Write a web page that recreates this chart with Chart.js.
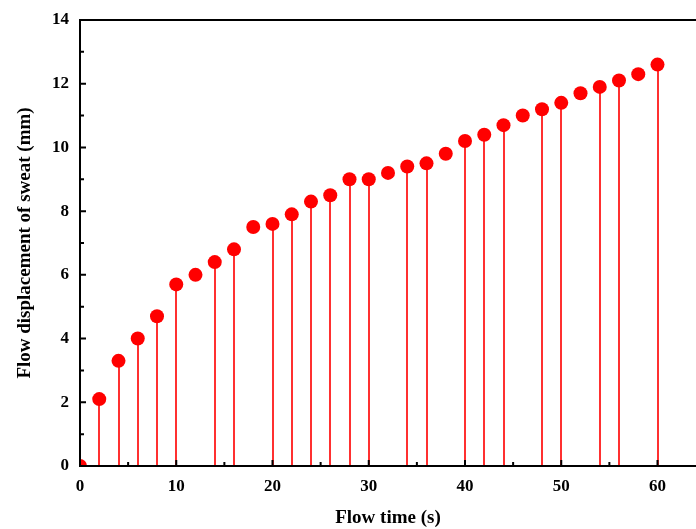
<!DOCTYPE html>
<html>
<head>
<meta charset="utf-8">
<script src="https://cdn.jsdelivr.net/npm/chart.js@4"></script>
<style>
html,body{margin:0;padding:0;background:#fff;}
#wrap{width:696px;height:529px;position:relative;}
</style>
</head>
<body>
<div id="wrap"><canvas id="c" width="696" height="529"></canvas></div>
<script>
const flowTime = [0,2,4,6,8,10,12,14,16,18,20,22,24,26,28,30,32,34,36,38,40,42,44,46,48,50,52,54,56,58,60];
const displacement = [0,2.1,3.3,4.0,4.7,5.7,6.0,6.4,6.8,7.5,7.6,7.9,8.3,8.5,9.0,9.0,9.2,9.4,9.5,9.8,10.2,10.4,10.7,11.0,11.2,11.4,11.7,11.9,12.1,12.3,12.6];
// times that have a visible drop line in the reference
const stemTimes = [2,4,6,8,10,14,16,20,22,24,26,28,30,34,36,40,42,44,48,50,54,56,60];
const xTicks = [0,10,20,30,40,50,60];
const xMinor = [5,15,25,35,45,55];
const yTicks = [0,2,4,6,8,10,12,14];
const yMinor = [1,3,5,7,9,11,13];

const FONT = "'Liberation Serif','Times New Roman',serif";

const framePlugin = {
  id: 'frame',
  beforeDatasetsDraw(chart) {
    const ctx = chart.ctx, xs = chart.scales.x, ys = chart.scales.y;
    ctx.save();
    ctx.strokeStyle = '#ff3030';
    ctx.lineWidth = 2;
    stemTimes.forEach(t => {
      const i = flowTime.indexOf(t);
      if (i < 0) return;
      const px = Math.round(xs.getPixelForValue(t));
      ctx.beginPath();
      ctx.moveTo(px, ys.getPixelForValue(0));
      ctx.lineTo(px, ys.getPixelForValue(displacement[i]));
      ctx.stroke();
    });
    ctx.restore();
  },
  afterDraw(chart) {
    const ctx = chart.ctx, a = chart.chartArea, xs = chart.scales.x, ys = chart.scales.y;
    ctx.save();
    ctx.strokeStyle = '#000';
    ctx.lineWidth = 2;
    ctx.beginPath();
    xTicks.forEach(v => { const p = xs.getPixelForValue(v); ctx.moveTo(p, a.bottom); ctx.lineTo(p, a.bottom - 6); });
    xMinor.forEach(v => { const p = xs.getPixelForValue(v); ctx.moveTo(p, a.bottom); ctx.lineTo(p, a.bottom - 4); });
    yTicks.forEach(v => { const p = ys.getPixelForValue(v); ctx.moveTo(a.left, p); ctx.lineTo(a.left + 6, p); });
    yMinor.forEach(v => { const p = ys.getPixelForValue(v); ctx.moveTo(a.left, p); ctx.lineTo(a.left + 4, p); });
    ctx.stroke();
    ctx.beginPath();
    ctx.moveTo(a.right + 2, a.top);
    ctx.lineTo(a.left, a.top);
    ctx.lineTo(a.left, a.bottom);
    ctx.lineTo(a.right + 2, a.bottom);
    ctx.stroke();
    ctx.restore();
  }
};

new Chart(document.getElementById('c'), {
  type: 'scatter',
  data: {
    datasets: [{
      data: flowTime.map((t, i) => ({x: t, y: displacement[i]})),
      backgroundColor: '#ff0000',
      borderColor: '#ff0000',
      pointRadius: 7,
      pointBorderWidth: 0,
      showLine: false,
      clip: 0
    }]
  },
  options: {
    responsive: false,
    animation: false,
    events: [],
    layout: { autoPadding: false, padding: { top: 20, right: 0, left: 0, bottom: 0 } },
    plugins: { legend: { display: false }, tooltip: { enabled: false } },
    scales: {
      x: {
        type: 'linear',
        min: 0, max: 64,
        grid: { display: false },
        border: { display: false },
        afterFit: s => { s.height = 63; },
        ticks: {
          stepSize: 10, includeBounds: false, padding: 2,
          color: '#000',
          font: { family: FONT, size: 17, weight: 'bold' },
          maxRotation: 0
        },
        title: {
          display: true, text: 'Flow time (s)', color: '#000',
          font: { family: FONT, size: 19, weight: 'bold' },
          padding: { top: 4, bottom: 0 }
        }
      },
      y: {
        min: 0, max: 14,
        grid: { display: false },
        border: { display: false },
        afterFit: s => { s.width = 80; },
        ticks: {
          stepSize: 2, padding: 3,
          color: '#000',
          font: { family: FONT, size: 17, weight: 'bold' }
        },
        title: {
          display: true, text: 'Flow displacement of sweat (mm)', color: '#000',
          font: { family: FONT, size: 19, weight: 'bold' },
          padding: { top: 14, bottom: 0 }
        }
      }
    }
  },
  plugins: [framePlugin]
});
</script>
</body>
</html>
